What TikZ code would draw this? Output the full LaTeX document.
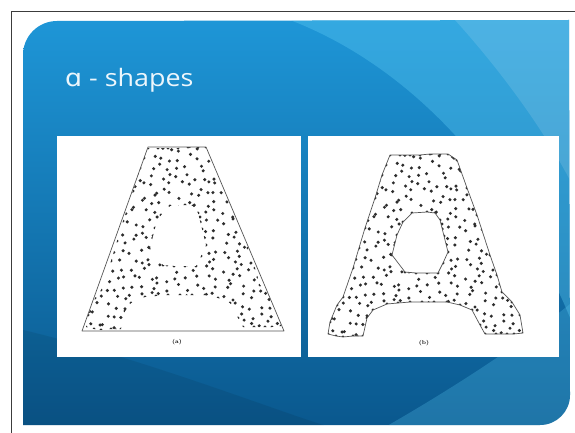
\documentclass[tikz,border=0pt]{standalone}
\usepackage{fontspec}
\usepackage{graphicx}
\newfontfamily\titlefont{Open Sans}
\newfontfamily\alphafont{DejaVu Sans}
\definecolor{slidetop}{RGB}{30,150,215}
\definecolor{slidebot}{RGB}{10,88,142}
\definecolor{slidelight}{RGB}{95,205,245}
\definecolor{titlewhite}{RGB}{236,246,252}
\definecolor{dotgray}{RGB}{45,45,45}
\definecolor{hullgray}{RGB}{85,85,85}
\definecolor{framegray}{RGB}{60,60,60}

% outline of the A-shaped point set (panel b coordinates)
\newcommand\outerpts{390/155, 400/155, 410/155, 420/155, 430/154, 440/154,
  448/154, 457/160, 467/188, 477/215, 490/255, 497/275, 502/292, 512/302,
  520/315, 523/333, 514/334, 507/334, 496/334, 485/334, 480/325, 472/310,
  460/305, 447/302, 434/302, 422/302, 410/302, 398/303, 387/304, 373/310,
  367/318, 363/336, 353/336, 343/337, 336/336, 328/334, 330/322, 337/305,
  343/297, 353/268, 359/248, 365/228, 375/198, 382/175, 386/165}
\newcommand\holepts{412/213, 427/212, 435/213, 440/220, 444/236, 448/252,
  443/263, 438/273, 427/273, 416/273, 405/272, 392/255, 397/235, 403/222}

\newcommand\adots{%
  \pgfmathsetseed{7311}
  \foreach \i in {0,...,21}{
    \foreach \j in {0,...,20}{
      \pgfmathsetmacro\px{329+9.2*\i+4.2*rand}
      \pgfmathsetmacro\py{156+9.2*\j+4.2*rand}
      \fill[dotgray] (\px,\py) circle[radius=1.7pt];
    }
  }
  \foreach \x/\y in \outerpts {\fill[dotgray] (\x,\y) circle[radius=1.7pt];}
  \foreach \x/\y in \holepts {\fill[dotgray] (\x,\y) circle[radius=1.7pt];}
}
\newcommand\aclip{%
  \clip (390,155) \foreach \x/\y in \outerpts {-- (\x,\y)} -- cycle
    (412,213) \foreach \x/\y in \holepts {-- (\x,\y)} -- cycle;
}

\begin{document}
\begin{tikzpicture}[x=1pt,y=-1pt,
    hull/.style={hullgray,line width=0.7pt,line join=round},
    caption/.style={font=\fontsize{5.5}{6}\selectfont\bfseries,text=black}]
  \useasboundingbox (0,0) rectangle (575,433);
  \fill[white] (0,0) rectangle (575,433);

  % slide background
  \shade[top color=slidetop,bottom color=slidebot]
    (23,425) -- (23,55) arc[start angle=180,end angle=270,radius=34]
    -- (569,20) -- (570,395) arc[start angle=0,end angle=90,radius=30] -- cycle;
  \begin{scope}
    \clip (23,425) -- (23,55) arc[start angle=180,end angle=270,radius=34]
      -- (569,20) -- (570,395) arc[start angle=0,end angle=90,radius=30] -- cycle;
    \fill[slidelight,opacity=0.35] (290,20)
      .. controls (420,70) and (520,190) .. (575,330) -- (575,20) -- cycle;
    \fill[white,opacity=0.12] (455,20)
      .. controls (500,70) and (545,130) .. (575,190) -- (575,20) -- cycle;
    \fill[slidelight,opacity=0.25] (380,430)
      .. controls (450,390) and (520,345) .. (575,300) -- (575,430) -- cycle;
    \fill[black,opacity=0.08] (23,330) .. controls (150,360) and (300,420) .. (340,430)
      -- (23,430) -- cycle;
  \end{scope}

  % outer frame
  \draw[framegray,line width=0.9pt] (11,433) -- (11,11) -- (575,11);

  \node[anchor=base west,text=titlewhite,inner sep=0pt,
    font=\titlefont\fontsize{24}{28}\selectfont] (title) at (65,87)
    {\scalebox{1.12}[1]{{\alphafont ɑ} - shapes}};

  % panel a
  \fill[white] (57,136) rectangle (301,357);
  \begin{scope}[shift={(-242,-7)},even odd rule]
    \clip (390,154) -- (448,154) -- (526,338) -- (324,338) -- cycle;
    \aclip
    \adots
  \end{scope}
  \draw[hull] (148,147) -- (206,147) -- (284,331) -- (82,331) -- cycle;
  \node[caption] (capa) at (177,342) {(a)};

  % panel b
  \fill[white] (308,136) rectangle (559,357);
  \begin{scope}[even odd rule]
    \aclip
    \adots
  \end{scope}
  \draw[hull] (390,155) \foreach \x/\y in \outerpts {-- (\x,\y)} -- cycle;
  \draw[hull] (412,213) \foreach \x/\y in \holepts {-- (\x,\y)} -- cycle;
  \node[caption] (capb) at (424,343) {(b)};
\end{tikzpicture}
\end{document}
